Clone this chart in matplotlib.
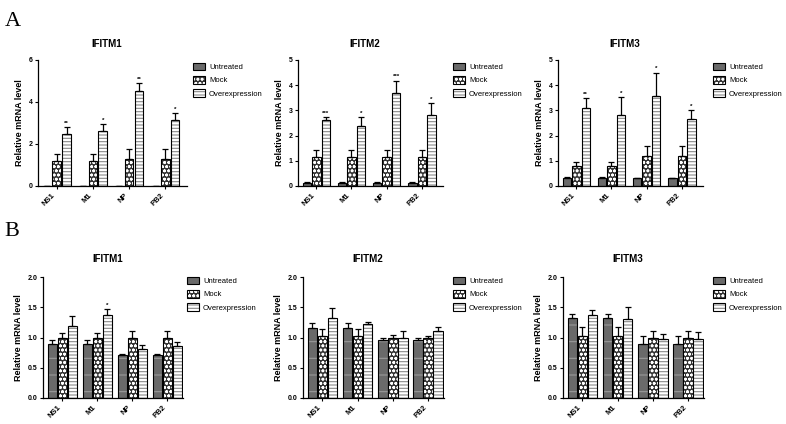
import matplotlib
matplotlib.use("Agg")
import matplotlib.pyplot as plt
from matplotlib.patches import Patch
import numpy as np

plt.rcParams['font.family'] = ['Liberation Sans', 'DejaVu Sans']
plt.rcParams['hatch.linewidth'] = 0.8

categories = ["NS1", "M1", "NP", "PB2"]
series_names = ["Untreated", "Mock", "Overexpression"]
titles = ["IFITM1", "IFITM2", "IFITM3"]

# Panel A (overexpression experiment)
a1_untreated = [0.0, 0.0, 0.0, 0.0]
a1_untreated_err = [0.0, 0.0, 0.0, 0.0]
a1_mock = [1.2, 1.2, 1.28, 1.28]
a1_mock_err = [0.32, 0.32, 0.48, 0.48]
a1_over = [2.5, 2.63, 4.53, 3.14]
a1_over_err = [0.3, 0.33, 0.37, 0.33]
a1_stars = ["**", "*", "**", "*"]

a2_untreated = [0.12, 0.12, 0.12, 0.12]
a2_untreated_err = [0.02, 0.02, 0.02, 0.02]
a2_mock = [1.14, 1.14, 1.14, 1.14]
a2_mock_err = [0.3, 0.3, 0.3, 0.3]
a2_over = [2.6, 2.37, 3.7, 2.83]
a2_over_err = [0.12, 0.37, 0.48, 0.45]
a2_stars = ["***", "*", "***", "*"]

a3_untreated = [0.33, 0.33, 0.3, 0.3]
a3_untreated_err = [0.02, 0.02, 0.02, 0.02]
a3_mock = [0.8, 0.8, 1.19, 1.19]
a3_mock_err = [0.17, 0.17, 0.38, 0.38]
a3_over = [3.1, 2.8, 3.58, 2.65]
a3_over_err = [0.38, 0.74, 0.92, 0.35]
a3_stars = ["**", "*", "*", "*"]

# Panel B
b1_untreated = [0.89, 0.89, 0.71, 0.71]
b1_untreated_err = [0.07, 0.07, 0.02, 0.02]
b1_mock = [1.0, 1.0, 1.0, 1.0]
b1_mock_err = [0.08, 0.08, 0.1, 0.1]
b1_over = [1.19, 1.37, 0.81, 0.86]
b1_over_err = [0.16, 0.1, 0.07, 0.06]
b1_stars = ["", "*", "", ""]

b2_untreated = [1.16, 1.16, 0.96, 0.96]
b2_untreated_err = [0.08, 0.08, 0.03, 0.03]
b2_mock = [1.02, 1.02, 1.0, 1.0]
b2_mock_err = [0.12, 0.12, 0.04, 0.03]
b2_over = [1.32, 1.22, 0.99, 1.1]
b2_over_err = [0.16, 0.03, 0.12, 0.08]
b2_stars = ["", "", "", ""]

b3_untreated = [1.33, 1.33, 0.9, 0.9]
b3_untreated_err = [0.06, 0.06, 0.12, 0.12]
b3_mock = [1.02, 1.02, 1.0, 1.0]
b3_mock_err = [0.15, 0.15, 0.1, 0.1]
b3_over = [1.38, 1.31, 0.98, 0.97]
b3_over_err = [0.08, 0.19, 0.08, 0.12]
b3_stars = ["", "", "", ""]

a_yticks = [[0, 2, 4, 6], [0, 1, 2, 3, 4, 5], [0, 1, 2, 3, 4, 5]]
b_yticks = [0.0, 0.5, 1.0, 1.5, 2.0]

styles = [
    dict(face="#6a6a6a", hatch="-", hcolor="#9a9a9a"),
    dict(face="#333333", hatch="oooo", hcolor="#ffffff"),
    dict(face="#ffffff", hatch="-----", hcolor="#8a8a8a"),
]

W, H = 786, 424
fig = plt.figure(figsize=(W / 100, H / 100), dpi=100)


def px_axes(x0, y_top, x1, y_bot):
    return fig.add_axes([x0 / W, 1 - y_bot / H, (x1 - x0) / W, (y_bot - y_top) / H])


def draw_panel(ax, data, errs, stars, yticks, ylim, xlim, width, offset, fmt, title,
               legend_xy, title_pad):
    x = np.arange(len(categories))
    for i, (vals, er) in enumerate(zip(data, errs)):
        pos = x + (i - 1) * offset
        st = styles[i]
        bars = ax.bar(pos, vals, width, color=st["face"], edgecolor="black",
                      linewidth=0.8, hatch=st["hatch"], zorder=2)
        for b in bars:
            b._hatch_color = matplotlib.colors.to_rgba(st["hcolor"])
        ax.errorbar(pos, vals, yerr=[np.zeros(len(vals)), er], fmt="none",
                    ecolor="black", elinewidth=0.9, capsize=2, capthick=0.9, zorder=3)
        if i == 2:
            for p, v, e, s in zip(pos, vals, er, stars):
                if s:
                    ax.text(p, v + e + (ylim[1] * 0.01), s, ha="center", va="bottom",
                            fontsize=4.5, fontweight="bold")
    ax.set_xlim(*xlim)
    ax.set_ylim(*ylim)
    ax.set_yticks(yticks)
    ax.set_yticklabels([fmt.format(t) for t in yticks], fontsize=5, fontweight="bold")
    ax.set_xticks(x)
    ax.set_xticklabels(categories, rotation=45, ha="right", fontsize=5.5, fontweight="bold")
    ax.spines["top"].set_visible(False)
    ax.spines["right"].set_visible(False)
    ax.spines["left"].set_linewidth(0.9)
    ax.spines["bottom"].set_linewidth(0.9)
    ax.tick_params(length=2.5, width=0.8, pad=1.5)
    ax.set_ylabel("Relative mRNA level", fontsize=6.5, fontweight="bold", labelpad=3)
    ax.set_title(title, fontsize=7, fontweight="bold", x=0.46, pad=title_pad)
    handles = []
    for st, name in zip(styles, series_names):
        p = Patch(facecolor=st["face"], edgecolor="black", linewidth=0.8, hatch=st["hatch"], label=name)
        p._hatch_color = matplotlib.colors.to_rgba(st["hcolor"])
        handles.append(p)
    ax.legend(handles=handles, loc="upper left",
              bbox_to_anchor=(legend_xy[0] / W, 1 - legend_xy[1] / H),
              bbox_transform=fig.transFigure, frameon=False, fontsize=5.5,
              handlelength=1.6, handleheight=1.1, labelspacing=0.65,
              handletextpad=0.5, borderpad=0, borderaxespad=0)


a_data = [
    ([a1_untreated, a1_mock, a1_over], [a1_untreated_err, a1_mock_err, a1_over_err], a1_stars),
    ([a2_untreated, a2_mock, a2_over], [a2_untreated_err, a2_mock_err, a2_over_err], a2_stars),
    ([a3_untreated, a3_mock, a3_over], [a3_untreated_err, a3_mock_err, a3_over_err], a3_stars),
]
b_data = [
    ([b1_untreated, b1_mock, b1_over], [b1_untreated_err, b1_mock_err, b1_over_err], b1_stars),
    ([b2_untreated, b2_mock, b2_over], [b2_untreated_err, b2_mock_err, b2_over_err], b2_stars),
    ([b3_untreated, b3_mock, b3_over], [b3_untreated_err, b3_mock_err, b3_over_err], b3_stars),
]

a_x = [(38, 187), (298, 443), (558, 703)]
a_leg = [193, 453, 713]
for k in range(3):
    ax = px_axes(a_x[k][0], 60, a_x[k][1], 186)
    d, e, s = a_data[k]
    draw_panel(ax, d, e, s, a_yticks[k], (0, a_yticks[k][-1]), (-0.52, 3.6), 0.24, 0.27,
               "{:d}", titles[k], (a_leg[k], 63), 9.5)

b_x = [(43, 183), (303, 444), (563, 704)]
b_leg = [187, 453, 713]
for k in range(3):
    ax = px_axes(b_x[k][0], 277, b_x[k][1], 398)
    d, e, s = b_data[k]
    draw_panel(ax, d, e, s, b_yticks, (0, 2.0), (-0.55, 3.45), 0.27, 0.285,
               "{:.1f}", titles[k], (b_leg[k], 277), 11)

fig.text(13 / W, 1 - 22 / H, "A", fontsize=16, family="Liberation Serif", ha="center", va="center")
fig.text(12 / W, 1 - 232 / H, "B", fontsize=16, family="Liberation Serif", ha="center", va="center")

fig.savefig("out.png", dpi=100)
